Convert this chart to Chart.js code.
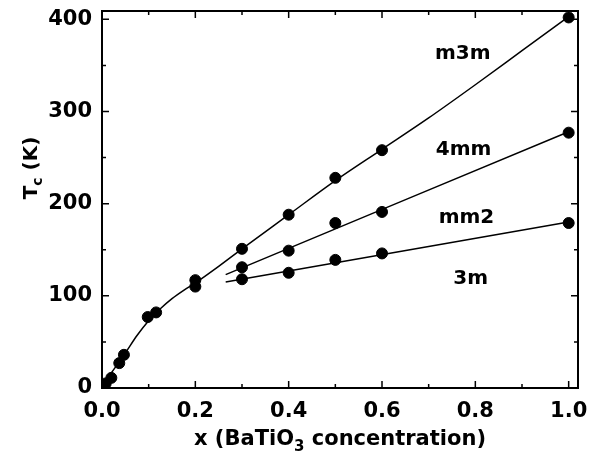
<!DOCTYPE html>
<html>
<head>
<meta charset="utf-8">
<script src="https://cdn.jsdelivr.net/npm/chart.js@4.4.0/dist/chart.umd.min.js"></script>
<style>
html, body { margin: 0; padding: 0; background: #fff; }
#wrap { width: 589px; height: 459px; }
</style>
</head>
<body>
<div id="wrap"><canvas id="tcChart"></canvas></div>
<script>
// measured points, low concentration part
const lowX = [0.008, 0.02, 0.037, 0.047, 0.098, 0.116, 0.2, 0.2];
const lowTc = [5, 11, 27, 36, 77, 82, 117, 110];

// the three transitions above x = 0.3
const phaseX = [0.3, 0.4, 0.5, 0.6, 1.0];
const m3mTc = [151, 188, 228, 258, 402];
const mm4Tc = [131, 149, 179, 191, 277];
const m3Tc = [118, 125, 139, 146, 179];

// fitted curves as drawn in the figure
const curveX = [0, 0.025, 0.05, 0.075, 0.1, 0.125, 0.15, 0.175, 0.2, 0.25, 0.3, 0.4, 0.5, 0.6, 0.7, 0.8, 0.9, 1.0];
const curveTc = [3, 20, 38, 57, 73, 86, 97, 106, 114, 132, 151, 188, 225, 259, 293, 329, 366, 403];
const fitX = [0.265, 1.0];
const fit4mmTc = [123, 278];
const fit3mTc = [115, 180];

const phaseLabels = ['m3m', '4mm', 'mm2', '3m'];
const xTicks = [0, 0.2, 0.4, 0.6, 0.8, 1.0];
const yTicks = [0, 100, 200, 300, 400];

const FONT = 'DejaVu Sans';

function pts(xs, ys) {
    return xs.map((x, i) => ({ x: x, y: ys[i] }));
}

function dots(xs, ys) {
    return {
        data: pts(xs, ys),
        showLine: false,
        pointRadius: 5.5,
        pointBackgroundColor: '#000',
        pointBorderColor: '#000'
    };
}

function fit(xs, ys) {
    return {
        data: pts(xs, ys),
        showLine: true,
        borderColor: '#000',
        borderWidth: 1.5,
        pointRadius: 0,
        tension: 0.4,
        cubicInterpolationMode: 'monotone'
    };
}

// frame, inward ticks, axis titles with subscripts, phase labels
const decor = {
    id: 'decor',
    afterDatasetsDraw(chart) {
        const ctx = chart.ctx;
        const a = chart.chartArea;
        const xs = chart.scales.x, ys = chart.scales.y;
        ctx.save();
        ctx.strokeStyle = '#000';
        ctx.lineWidth = 2;
        ctx.strokeRect(a.left, a.top, a.right - a.left, a.bottom - a.top);

        ctx.lineWidth = 1.5;
        ctx.beginPath();
        for (let v = 0; v <= 10; v++) {
            const px = xs.getPixelForValue(v / 10);
            const len = v % 2 === 0 ? 7 : 4;
            ctx.moveTo(px, a.bottom); ctx.lineTo(px, a.bottom - len);
            ctx.moveTo(px, a.top); ctx.lineTo(px, a.top + len);
        }
        for (let v = 0; v <= 400; v += 50) {
            const py = ys.getPixelForValue(v);
            const len = v % 100 === 0 ? 7 : 4;
            ctx.moveTo(a.left, py); ctx.lineTo(a.left + len, py);
            ctx.moveTo(a.right, py); ctx.lineTo(a.right - len, py);
        }
        ctx.stroke();

        ctx.fillStyle = '#000';
        ctx.textBaseline = 'alphabetic';

        // x title
        const big = 'bold 21px "' + FONT + '"';
        const small = 'bold 15px "' + FONT + '"';
        const p1 = 'x (BaTiO', p2 = '3', p3 = ' concentration)';
        ctx.font = big;
        const w1 = ctx.measureText(p1).width, w3 = ctx.measureText(p3).width;
        ctx.font = small;
        const w2 = ctx.measureText(p2).width;
        let x0 = (a.left + a.right) / 2 - (w1 + w2 + w3) / 2;
        const base = 445;
        ctx.font = big; ctx.textAlign = 'left';
        ctx.fillText(p1, x0, base);
        ctx.font = small;
        ctx.fillText(p2, x0 + w1, base + 6);
        ctx.font = big;
        ctx.fillText(p3, x0 + w1 + w2, base);

        // y title
        ctx.save();
        ctx.translate(37, 168);
        ctx.rotate(-Math.PI / 2);
        const q1 = 'T', q2 = 'c', q3 = ' (K)';
        const yb = 'bold 20px "' + FONT + '"', ysm = 'bold 14px "' + FONT + '"';
        ctx.font = yb;
        const v1 = ctx.measureText(q1).width, v3 = ctx.measureText(q3).width;
        ctx.font = ysm;
        const v2 = ctx.measureText(q2).width;
        let s = -(v1 + v2 + v3) / 2;
        ctx.font = yb; ctx.fillText(q1, s, 0);
        ctx.font = ysm; ctx.fillText(q2, s + v1, 5);
        ctx.font = yb; ctx.fillText(q3, s + v1 + v2, 0);
        ctx.restore();

        // phase labels
        const spots = [[0.773, 363], [0.775, 258], [0.781, 185], [0.79, 119]];
        ctx.font = 'bold 20px "' + FONT + '"';
        ctx.textAlign = 'center';
        ctx.textBaseline = 'middle';
        phaseLabels.forEach((t, i) => {
            ctx.fillText(t, xs.getPixelForValue(spots[i][0]), ys.getPixelForValue(spots[i][1]));
        });
        ctx.restore();
    }
};

new Chart(document.getElementById('tcChart').getContext('2d'), {
    type: 'scatter',
    data: {
        datasets: [
            fit(curveX, curveTc),
            fit(fitX, fit4mmTc),
            fit(fitX, fit3mTc),
            dots(lowX, lowTc),
            dots(phaseX, m3mTc),
            dots(phaseX, mm4Tc),
            dots(phaseX, m3Tc)
        ]
    },
    options: {
        responsive: true,
        maintainAspectRatio: false,
        animation: false,
        layout: { padding: { top: 11, right: 11, left: 0, bottom: 0 } },
        plugins: {
            legend: { display: false },
            tooltip: { enabled: false }
        },
        scales: {
            x: {
                type: 'linear',
                min: 0,
                max: 1.02,
                afterFit: s => { s.height = 71; s.paddingLeft = 0; s.paddingRight = 0; },
                afterBuildTicks: s => { s.ticks = xTicks.map(v => ({ value: v })); },
                grid: { display: false, drawTicks: false },
                border: { display: false },
                ticks: {
                    padding: 11,
                    color: '#000',
                    font: { family: FONT, size: 21, weight: 'bold' },
                    callback: v => v.toFixed(1)
                }
            },
            y: {
                type: 'linear',
                min: 0,
                max: 409,
                afterFit: s => { s.width = 102; s.paddingTop = 0; s.paddingBottom = 0; },
                afterBuildTicks: s => { s.ticks = yTicks.map(v => ({ value: v })); },
                grid: { display: false, drawTicks: false },
                border: { display: false },
                ticks: {
                    padding: 10,
                    color: '#000',
                    font: { family: FONT, size: 21, weight: 'bold' }
                }
            }
        }
    },
    plugins: [decor]
});
</script>
</body>
</html>
